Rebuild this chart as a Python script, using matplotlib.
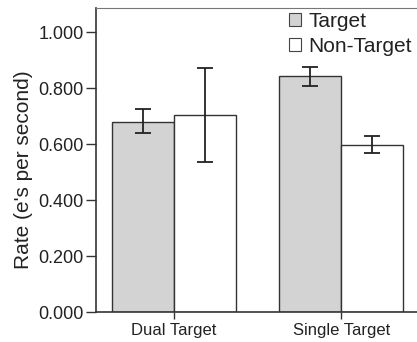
import numpy as np
import matplotlib.pyplot as plt

plt.rcParams['font.family'] = ['Liberation Sans', 'DejaVu Sans']

#--- data
groups = ['Dual Target', 'Single Target']
target = [0.681, 0.843]
target_lo = [0.640, 0.808]
target_hi = [0.725, 0.877]
nontarget = [0.705, 0.599]
nontarget_lo = [0.538, 0.570]
nontarget_hi = [0.871, 0.629]

x = np.arange(len(groups))
w = 0.37

fig = plt.figure(figsize=(4.17, 3.42), dpi=100)
ax = fig.add_axes([96/417, (342-312.3)/342, (417-96)/417, (312.3-8)/342])

t_err = [np.array(target) - np.array(target_lo), np.array(target_hi) - np.array(target)]
n_err = [np.array(nontarget) - np.array(nontarget_lo), np.array(nontarget_hi) - np.array(nontarget)]

ax.bar(x - w/2, target, w, color='#d3d3d3', edgecolor='#333333', linewidth=1, label='Target')
ax.bar(x + w/2, nontarget, w, color='white', edgecolor='#333333', linewidth=1, label='Non-Target')
ax.errorbar(x - w/2, target, yerr=t_err, fmt='none', ecolor='#222222', elinewidth=1.3, capsize=6, capthick=1.3)
ax.errorbar(x + w/2, nontarget, yerr=n_err, fmt='none', ecolor='#222222', elinewidth=1.3, capsize=6, capthick=1.3)

ax.set_xlim(-0.466, 1.452)
ax.set_ylim(0, 1.087)
ticks = [0, 0.2, 0.4, 0.6, 0.8, 1.0]
ax.set_yticks(ticks)
ax.set_yticklabels(['%.3f' % v for v in ticks], fontsize=13, color='#222222')
ax.set_xticks(x)
ax.set_xticklabels(groups, fontsize=12, color='#222222')
ax.tick_params(axis='y', length=7, width=1, color='#333333', pad=2)
ax.tick_params(axis='x', length=5, width=1, color='#333333', pad=3)
ax.set_ylabel("Rate (e's per second)", fontsize=15, color='#222222', labelpad=4)
ax.yaxis.label.set_y(0.47)

ax.spines['right'].set_visible(False)
ax.spines['top'].set_color('#777777')
ax.spines['top'].set_linewidth(0.8)
ax.spines['left'].set_color('#333333')
ax.spines['bottom'].set_color('#333333')
ax.spines['left'].set_linewidth(1.2)
ax.spines['bottom'].set_linewidth(1.2)

leg = ax.legend(loc='upper right', bbox_to_anchor=(1.03, 1.035), frameon=False, fontsize=15,
                handlelength=0.6, handleheight=0.6, handletextpad=0.35, labelspacing=0.3,
                labelcolor='#222222', borderpad=0.2)
for h in leg.legend_handles:
    h.set_edgecolor('#444444')
    h.set_linewidth(0.8)

fig.savefig('out.png', dpi=100)
